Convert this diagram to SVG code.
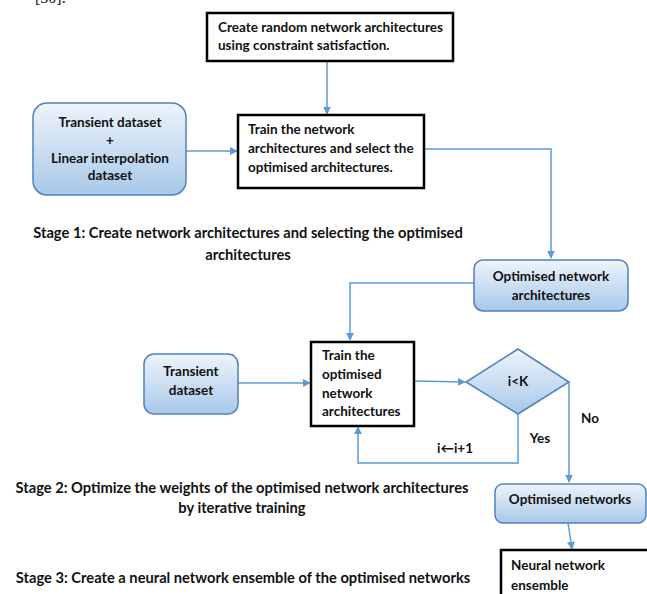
<svg xmlns="http://www.w3.org/2000/svg" width="647" height="594" viewBox="0 0 647 594">
<defs>
<linearGradient id="g" x1="0" y1="0" x2="0" y2="1">
<stop offset="0" stop-color="#eef4fb"/>
<stop offset="1" stop-color="#a8c8e8"/>
</linearGradient>
<marker id="ah" viewBox="0 0 10 10" refX="9" refY="5" markerWidth="8" markerHeight="8" markerUnits="userSpaceOnUse" orient="auto">
<path d="M0,0 L10,5 L0,10 z" fill="#5b9bd5"/>
</marker>
</defs>
<style>
text{font-family:Lato,"Open Sans","Liberation Sans",sans-serif;font-weight:bold;font-size:13.5px;fill:#111}
.c{text-anchor:middle}
.st{font-size:14.7px}
.box{fill:#fff;stroke:#000;stroke-width:2.5}
.rbox{fill:url(#g);stroke:#4f81bd;stroke-width:1.5}
.ln{fill:none;stroke:#5b9bd5;stroke-width:1.5}
.arr{marker-end:url(#ah)}
</style>
<text x="35" y="3" style="font-family:'Liberation Serif',serif;font-weight:normal;font-size:16px">[30].</text>

<g id="connectors">
<line class="ln arr" x1="327" y1="61" x2="327" y2="114"/>
<line class="ln arr" x1="186" y1="151" x2="237" y2="151"/>
<polyline class="ln arr" points="424,149 551,149 551,258"/>
<polyline class="ln arr" points="474,283 350,283 350,340"/>
<line class="ln arr" x1="238" y1="383" x2="310" y2="383"/>
<line class="ln arr" x1="414" y1="381" x2="465" y2="382"/>
<polyline class="ln arr" points="518,414 518,463 358,463 358,427"/>
<polyline class="ln arr" points="569,382 569,482"/>
<line class="ln arr" x1="568" y1="523" x2="572" y2="549"/>
<text x="455" y="453" class="c">i&#8592;i+1</text>
<text x="540" y="443" class="c">Yes</text>
<text x="590" y="423" class="c">No</text>
</g>

<g id="create">
<rect class="box" x="207" y="13" width="246" height="48"/>
<text x="218" y="32">Create random network architectures</text>
<text x="218" y="50">using constraint satisfaction.</text>
</g>

<g id="train1">
<rect class="box" x="238" y="115" width="186" height="73"/>
<text x="248" y="134">Train the network</text>
<text x="248" y="153">architectures and select the</text>
<text x="248" y="172">optimised architectures.</text>
</g>

<g id="dataset1">
<rect class="rbox" x="33" y="103" width="153" height="92" rx="14"/>
<text x="110" y="127" class="c">Transient dataset</text>
<text x="110" y="145" class="c">+</text>
<text x="110" y="163" class="c">Linear interpolation</text>
<text x="110" y="180" class="c">dataset</text>
</g>

<g id="stage1">
<text x="248" y="238" class="c st">Stage 1: Create network architectures and selecting the optimised</text>
<text x="248" y="260" class="c st">architectures</text>
</g>

<g id="optarch">
<rect class="rbox" x="474" y="260" width="154" height="51" rx="9"/>
<text x="551" y="281" class="c">Optimised network</text>
<text x="551" y="300" class="c">architectures</text>
</g>

<g id="dataset2">
<rect class="rbox" x="144" y="354" width="94" height="60" rx="10"/>
<text x="191" y="376" class="c">Transient</text>
<text x="191" y="395" class="c">dataset</text>
</g>

<g id="train2">
<rect class="box" x="311" y="342" width="103" height="84"/>
<text x="322" y="360">Train the</text>
<text x="322" y="379">optimised</text>
<text x="322" y="398">network</text>
<text x="322" y="416">architectures</text>
</g>

<g id="decision">
<polygon class="rbox" points="518,349 569,382 518,414 466,382"/>
<text x="518" y="386" class="c">i&lt;K</text>
</g>

<g id="stage2">
<text x="242" y="493" class="c st">Stage 2: Optimize the weights of the optimised network architectures</text>
<text x="242" y="513" class="c st">by iterative training</text>
</g>

<g id="optnets">
<rect class="rbox" x="495" y="484" width="151" height="39" rx="8"/>
<text x="570" y="504" class="c">Optimised networks</text>
</g>

<g id="ensemble">
<rect class="box" x="501" y="550" width="150" height="60"/>
<text x="511" y="570">Neural network</text>
<text x="511" y="590">ensemble</text>
</g>

<g id="stage3">
<text x="243" y="583" class="c st">Stage 3: Create a neural network ensemble of the optimised networks</text>
</g>
</svg>
